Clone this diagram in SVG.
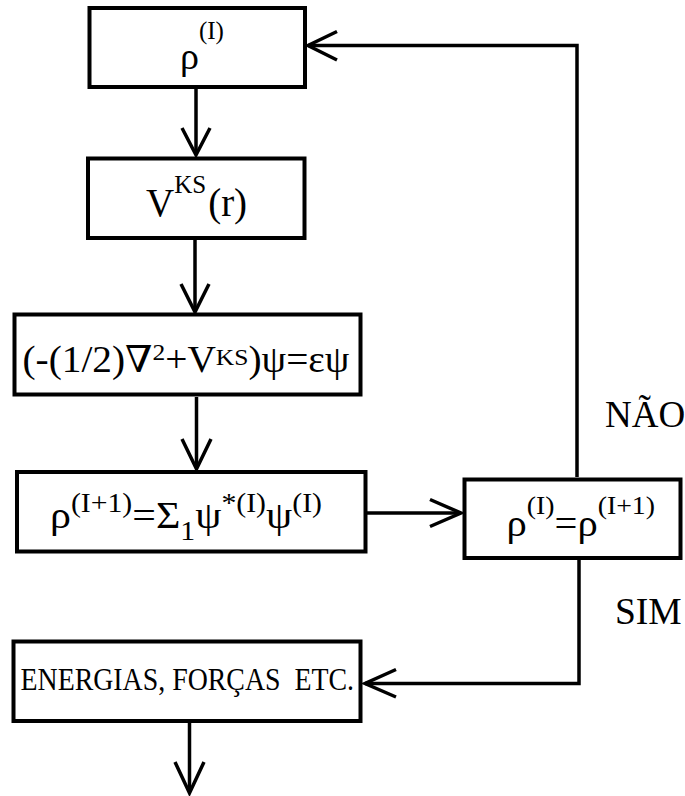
<svg xmlns="http://www.w3.org/2000/svg" width="685" height="796" viewBox="0 0 685 796">
  <style>
    .box { fill: #ffffff; stroke: #000000; stroke-width: 4; }
    .wire { fill: none; stroke: #000000; stroke-width: 3.5; stroke-linecap: butt; stroke-linejoin: miter; }
    .head { fill: none; stroke: #000000; stroke-width: 3.5; stroke-linecap: butt; stroke-linejoin: miter; }
    text { font-family: "Liberation Serif", "Times New Roman", "DejaVu Serif", serif; fill: #000000; }
  </style>
  <rect width="685" height="796" fill="#ffffff"/>

  <!-- connectors -->
  <g id="connectors">
    <!-- density -> potential -->
    <line class="wire" x1="196" y1="89" x2="196" y2="154"/>
    <polyline class="head" points="182,128 196,155 210,128"/>
    <!-- potential -> Kohn-Sham equation -->
    <line class="wire" x1="195" y1="240" x2="195" y2="311"/>
    <polyline class="head" points="181,284 195,312 209,284"/>
    <!-- equation -> new density -->
    <line class="wire" x1="196.5" y1="397" x2="196.5" y2="468"/>
    <polyline class="head" points="182,439 196.5,469 211,439"/>
    <!-- new density -> convergence test -->
    <line class="wire" x1="367" y1="513" x2="461" y2="513"/>
    <polyline class="head" points="430,499.5 461,513 430,526.5"/>
    <!-- NAO loop back to the start -->
    <polyline class="wire" points="577,477 577,45.5 308,45.5"/>
    <polyline class="head" points="337,31.5 308,45.5 337,60"/>
    <!-- SIM branch to the results -->
    <polyline class="wire" points="579,560 579,683.5 365,683.5"/>
    <polyline class="head" points="396,669.5 365,683.5 396,697"/>
    <!-- output -->
    <line class="wire" x1="189.5" y1="723" x2="189.5" y2="792"/>
    <polyline class="head" points="175,762 189.5,793 204,762"/>
  </g>

  <g id="node-rho">
    <rect class="box" x="89.5" y="8" width="215.5" height="79"/>
    <text x="180" y="69" font-size="38">ρ<tspan font-size="25" dy="-30">(I)</tspan></text>
  </g>

  <g id="node-vks">
    <rect class="box" x="88" y="158.5" width="216.5" height="79.5"/>
    <text x="146" y="216" font-size="39">V<tspan font-size="25" dy="-23">KS</tspan><tspan dy="23" dx="2">(r)</tspan></text>
  </g>

  <g id="node-ks-equation">
    <rect class="box" x="14.5" y="314.5" width="346" height="80"/>
    <text x="22.5" y="372" font-size="37" textLength="327" lengthAdjust="spacingAndGlyphs">(-(1/2)∇<tspan font-size="24" dy="-12">2</tspan><tspan dy="12">+V</tspan><tspan font-size="24" dy="-7">KS</tspan><tspan dy="7">)ψ=εψ</tspan></text>
  </g>

  <g id="node-new-density">
    <rect class="box" x="17" y="472" width="348.5" height="79.5"/>
    <text x="50" y="528" font-size="38" textLength="272" lengthAdjust="spacingAndGlyphs">ρ<tspan font-size="27" dy="-16">(I+1)</tspan><tspan dy="16">=Σ</tspan><tspan font-size="27" dy="12">1</tspan><tspan dy="-12">ψ</tspan><tspan font-size="27" dy="-16">*(I)</tspan><tspan dy="16">ψ</tspan><tspan font-size="27" dy="-16">(I)</tspan></text>
  </g>

  <g id="node-convergence">
    <rect class="box" x="464.5" y="479.5" width="216" height="78.5"/>
    <text x="506.5" y="536" font-size="38" textLength="148.5" lengthAdjust="spacingAndGlyphs">ρ<tspan font-size="26" dy="-22">(I)</tspan><tspan dy="22">=ρ</tspan><tspan font-size="26" dy="-22">(I+1)</tspan></text>
  </g>

  <g id="node-results">
    <rect class="box" x="13.5" y="641.5" width="347" height="79.5"/>
    <text x="20.5" y="690" font-size="31" textLength="333.5" lengthAdjust="spacingAndGlyphs" xml:space="preserve">ENERGIAS, FORÇAS  ETC.</text>
  </g>

  <g id="labels">
    <text x="605" y="426.5" font-size="37">NÃO</text>
    <text x="615" y="623.5" font-size="37.5">SIM</text>
  </g>
</svg>
